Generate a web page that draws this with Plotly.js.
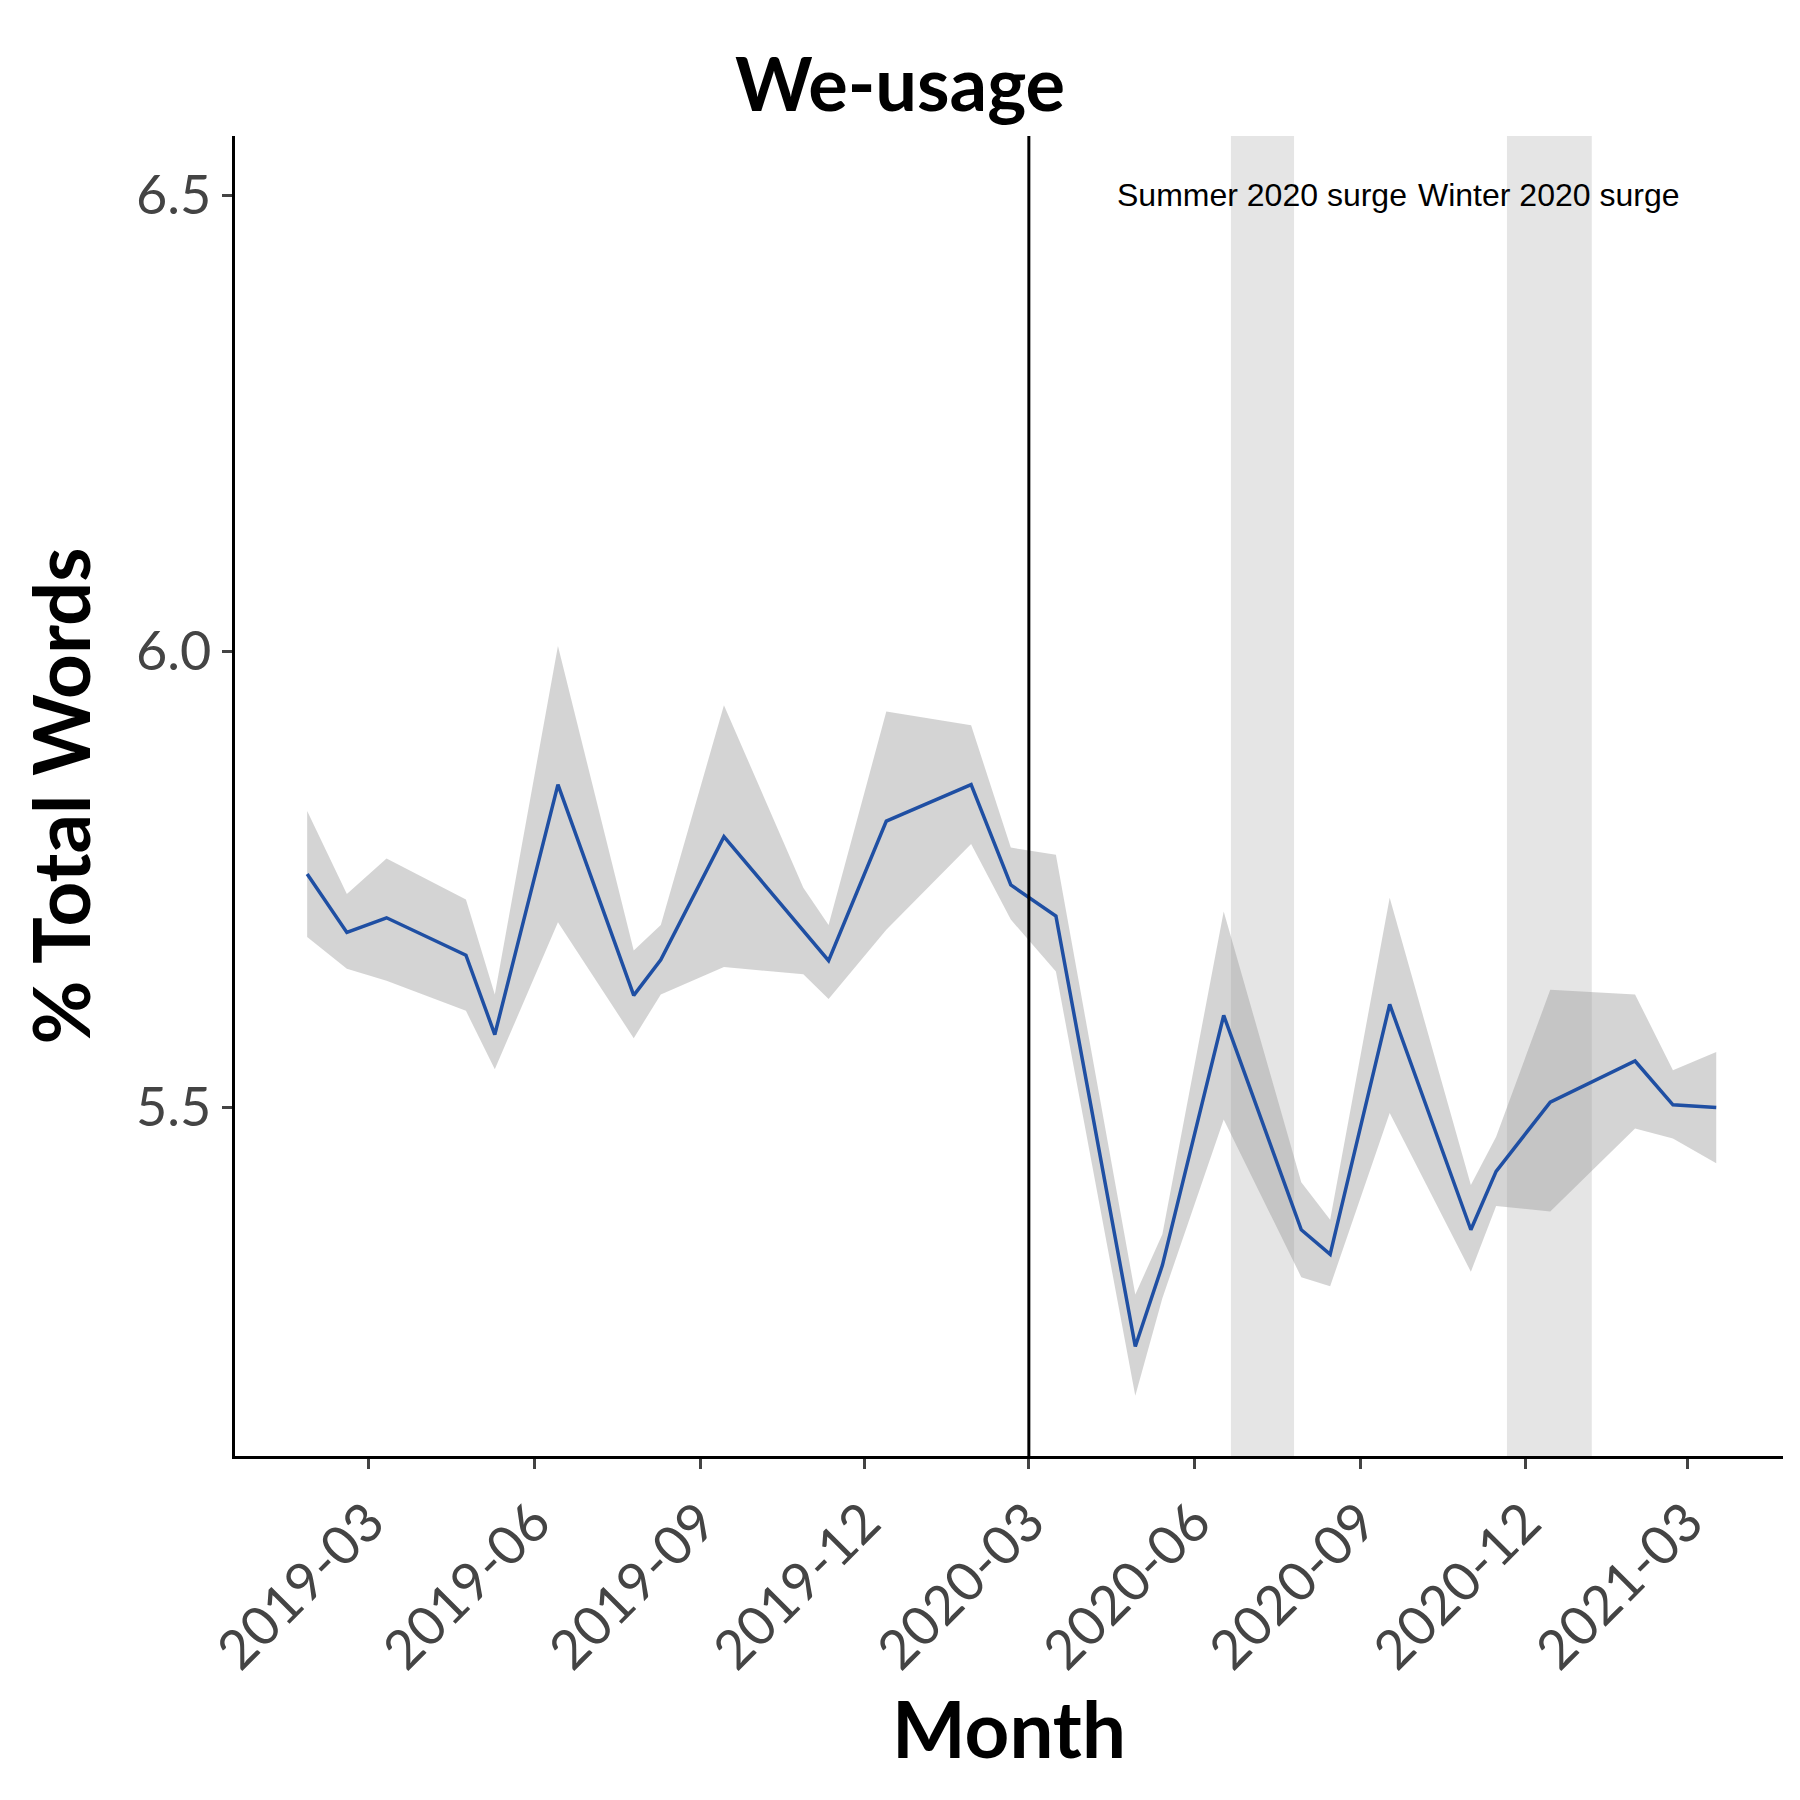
<!DOCTYPE html>
<html>
<head>
<meta charset="utf-8">
<script src="https://cdn.plot.ly/plotly-3.0.1.min.js"></script>
<style>body{margin:0;background:#fff}</style>
</head>
<body>
<div id="chart" style="width:1800px;height:1800px"></div>
<script>
// monthly we-usage with confidence band
var months = ['2019-01-26','2019-02-17','2019-03-11','2019-04-24','2019-05-10','2019-06-14','2019-07-26',
  '2019-08-10','2019-09-14','2019-10-28','2019-11-11','2019-12-13','2020-01-29','2020-02-20','2020-03-16',
  '2020-04-29','2020-05-14','2020-06-17','2020-07-30','2020-08-15','2020-09-17','2020-11-01','2020-11-15',
  '2020-12-15','2021-01-31','2021-02-21','2021-03-17'];
var meanVals = [5.756,5.692,5.708,5.667,5.580,5.854,5.623,5.662,5.797,5.694,5.661,5.814,5.854,5.744,5.710,
  5.238,5.327,5.601,5.366,5.339,5.613,5.366,5.430,5.506,5.551,5.503,5.500];
var lowVals = [5.687,5.652,5.639,5.606,5.542,5.703,5.576,5.624,5.654,5.646,5.619,5.695,5.789,5.706,5.649,
  5.184,5.291,5.487,5.314,5.304,5.494,5.320,5.392,5.386,5.477,5.466,5.439];
var highVals = [5.825,5.734,5.773,5.728,5.624,6.006,5.672,5.700,5.941,5.741,5.700,5.934,5.919,5.785,5.777,
  5.295,5.361,5.715,5.418,5.377,5.730,5.415,5.468,5.629,5.624,5.541,5.561];
var surgeNames = ['Summer 2020 surge','Winter 2020 surge'];
var surgeStart = ['2020-06-21','2020-11-21'];
var surgeEnd = ['2020-07-26','2021-01-07'];
var surgeLabelX = ['2020-07-08','2020-12-14'];
var covidStart = '2020-03-01';
var tickDates = ['2019-03-01','2019-06-01','2019-09-01','2019-12-01','2020-03-01','2020-06-01','2020-09-01','2020-12-01','2021-03-01'];

var band = {x: months.concat(months.slice().reverse()),
            y: highVals.concat(lowVals.slice().reverse()),
            fill: 'toself', fillcolor: 'rgba(153,153,153,0.42)', line: {width: 0},
            mode: 'lines', hoverinfo: 'skip'};
var line = {x: months, y: meanVals, mode: 'lines', line: {color: '#1f4fa3', width: 3.5}};

var shapes = [];
var annotations = [];
for (var i = 0; i < surgeNames.length; i++) {
    shapes.push({type: 'rect', xref: 'x', yref: 'paper', x0: surgeStart[i], x1: surgeEnd[i], y0: 0, y1: 1,
                 fillcolor: '#e5e5e5', line: {width: 0}, layer: 'below'});
    annotations.push({x: surgeLabelX[i], y: 6.5, xref: 'x', yref: 'y', text: surgeNames[i], showarrow: false,
                      font: {family: 'Liberation Sans', size: 32, color: '#000'}});
}
shapes.push({type: 'line', xref: 'x', yref: 'paper', x0: covidStart, x1: covidStart, y0: 0, y1: 1,
             line: {color: '#000', width: 3}});

var axisFont = {family: 'Lato', size: 54, color: '#444'};
var layout = {
    width: 1800, height: 1800, showlegend: false,
    paper_bgcolor: '#fff', plot_bgcolor: '#fff',
    margin: {l: 235, r: 17, t: 136, b: 344},
    title: {text: '<b>We-usage</b>', x: 0.5, y: 0.967, font: {family: 'Lato', size: 74, color: '#000'}},
    xaxis: {type: 'date', range: ['2018-12-17', '2021-04-23'], tickvals: tickDates, tickformat: '%Y-%m',
            tickangle: -45, tickfont: axisFont, ticks: 'outside', ticklen: 10, tickwidth: 2.5,
            showline: true, linecolor: '#000', linewidth: 2.5, showgrid: false, zeroline: false,
            title: {text: '<b>Month</b>', font: {family: 'Lato', size: 78, color: '#000'}, standoff: 24}},
    yaxis: {range: [5.118, 6.565], tickvals: [5.5, 6.0, 6.5], tickformat: '.1f', tickfont: axisFont,
            ticks: 'outside', ticklen: 10, tickwidth: 2.5, showline: true, linecolor: '#000', linewidth: 2.5,
            showgrid: false, zeroline: false,
            title: {text: '<b>% Total Words</b>', font: {family: 'Lato', size: 78, color: '#000'}, standoff: 20}},
    shapes: shapes, annotations: annotations
};
Plotly.newPlot('chart', [band, line], layout, {displayModeBar: false});
</script>
</body>
</html>
